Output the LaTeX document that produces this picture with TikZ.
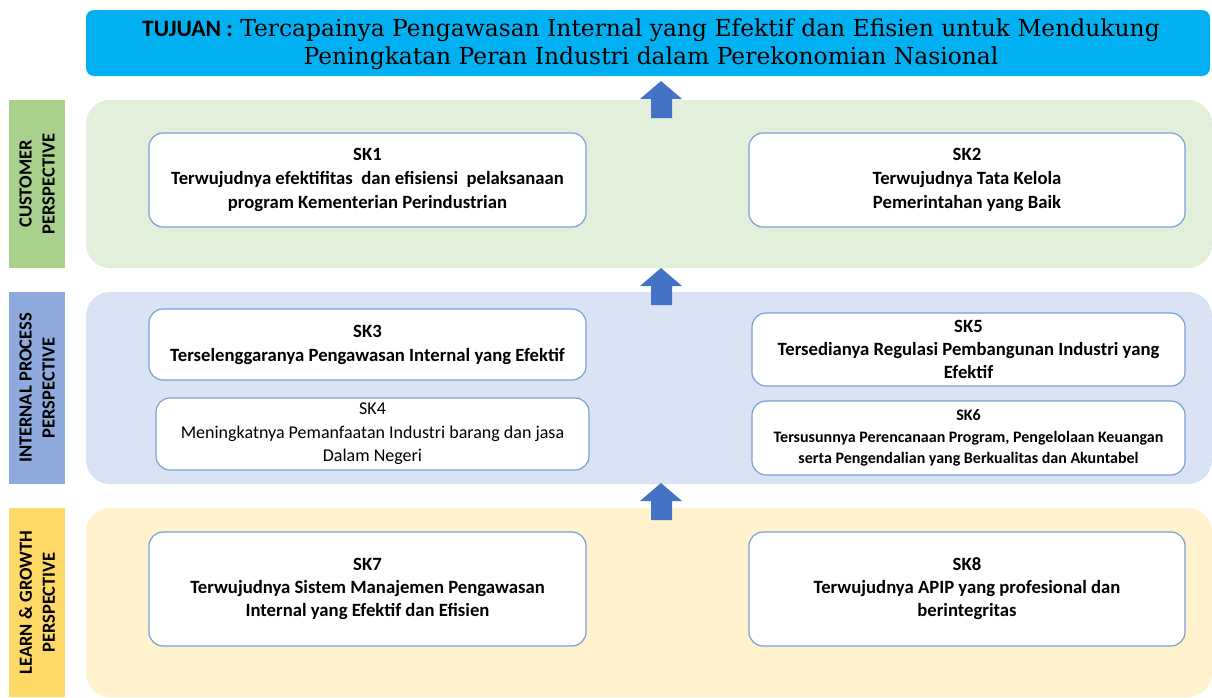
\documentclass[tikz,border=0pt]{standalone}
\usepackage{fontspec}
\setmainfont{Carlito}
\newfontfamily\goalfont{DejaVu Serif}
\usetikzlibrary{positioning}

\definecolor{goalblue}{HTML}{00B0F0}
\definecolor{custfill}{HTML}{E2EFDA}
\definecolor{custbar}{HTML}{A9D18E}
\definecolor{procfill}{HTML}{DAE3F3}
\definecolor{procbar}{HTML}{8FAADC}
\definecolor{learnfill}{HTML}{FFF2CC}
\definecolor{learnbar}{HTML}{FFD966}
\definecolor{arrowblue}{HTML}{4472C4}
\definecolor{boxline}{HTML}{7B9FD9}

\begin{document}
\begin{tikzpicture}[
    x=1pt, y=-1pt,
    panel/.style={rounded corners=24pt, inner sep=0pt, minimum width=1126pt},
    bar/.style={rotate=90, inner sep=0pt, minimum height=56pt, align=center,
      font=\bfseries\fontsize{18.5}{23}\selectfont},
    skbox/.style={draw=boxline, line width=1.2pt, fill=white, rounded corners=14pt,
      inner sep=0pt, align=center, font=\bfseries\fontsize{18.7}{24}\selectfont},
    uparrow/.style={fill=arrowblue}
  ]
  \useasboundingbox (0,0) rectangle (1212,697);

  % Goal banner
  \node[fill=goalblue, rounded corners=8pt, minimum width=1124pt, minimum height=66pt] (goal) at (648,43) {};
  \node[align=center, font=\goalfont\fontsize{23.4}{28}\selectfont] (goaltext) at (651,44)
    {{\normalfont\bfseries\fontsize{23.5}{28}\selectfont TUJUAN :} Tercapainya Pengawasan Internal yang Efektif dan Efisien untuk Mendukung\\
     Peningkatan Peran Industri dalam Perekonomian Nasional};

  % Perspective panels and side bars
  \node[panel, fill=custfill, minimum height=168pt] (cust) at (649,184) {};
  \node[panel, fill=procfill, minimum height=192pt] (proc) at (649,388) {};
  \node[panel, fill=learnfill, minimum height=189pt] (learn) at (649,602.5) {};

  \node[bar, fill=custbar, minimum width=168pt] (custlabel) at (37,184) {CUSTOMER\\PERSPECTIVE};
  \node[bar, fill=procbar, minimum width=192pt] (proclabel) at (37,388) {INTERNAL PROCESS\\PERSPECTIVE};
  \node[bar, fill=learnbar, minimum width=189pt] (learnlabel) at (37,602.5) {LEARN \& GROWTH\\PERSPECTIVE};

  % Arrows between the levels
  \foreach \b in {118,305,520}
    \fill[uparrow] (651,\b) -- (672,\b) -- (672,\b-19) -- (682,\b-19) -- (661,\b-37)
      -- (640,\b-19) -- (651,\b-19) -- cycle;

  % Customer perspective
  \node[skbox, minimum width=437pt, minimum height=94pt] (sk1) at (367.5,180)
    {SK1\\Terwujudnya efektifitas~ dan efisiensi~ pelaksanaan\\program Kementerian Perindustrian};
  \node[skbox, minimum width=436pt, minimum height=94pt] (sk2) at (967,180)
    {SK2\\Terwujudnya Tata Kelola\\Pemerintahan yang Baik};

  % Internal process perspective
  \node[skbox, minimum width=437pt, minimum height=71pt] (sk3) at (367.5,344.5)
    {SK3\\Terselenggaranya Pengawasan Internal yang Efektif};
  \node[skbox, minimum width=433pt, minimum height=72pt, font=\fontsize{18}{23.5}\selectfont] (sk4) at (372.5,434)
    {SK4\\Meningkatnya Pemanfaatan Industri barang dan jasa\\Dalam Negeri};
  \node[skbox, minimum width=433pt, minimum height=73pt, font=\bfseries\fontsize{18.7}{23}\selectfont] (sk5) at (968.5,349.5)
    {SK5\\Tersedianya Regulasi Pembangunan Industri yang\\Efektif};
  \node[skbox, minimum width=433pt, minimum height=74pt, font=\bfseries\fontsize{16}{21.5}\selectfont] (sk6) at (968.5,438)
    {SK6\\Tersusunnya Perencanaan Program, Pengelolaan Keuangan\\serta Pengendalian yang Berkualitas dan Akuntabel};

  % Learn and growth perspective
  \node[skbox, minimum width=437pt, minimum height=114pt, font=\bfseries\fontsize{18.7}{23}\selectfont] (sk7) at (367.5,589)
    {SK7\\Terwujudnya Sistem Manajemen Pengawasan\\Internal yang Efektif dan Efisien};
  \node[skbox, minimum width=436pt, minimum height=114pt, font=\bfseries\fontsize{18.7}{23}\selectfont] (sk8) at (967,589)
    {SK8\\Terwujudnya APIP yang profesional dan\\berintegritas};
\end{tikzpicture}
\end{document}
